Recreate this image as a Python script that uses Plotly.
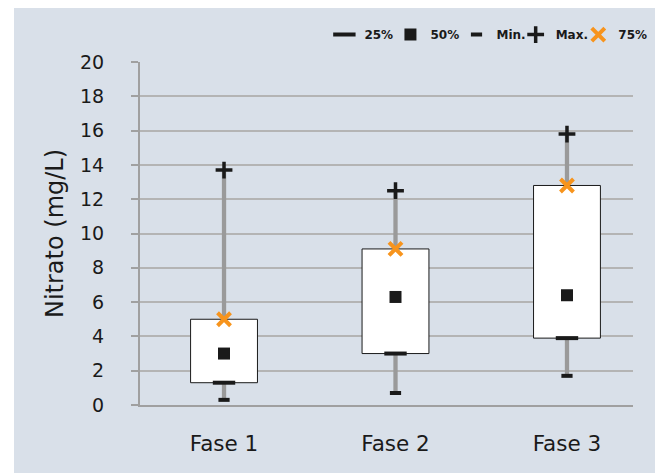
import plotly.graph_objects as go

categories = ["Fase 1", "Fase 2", "Fase 3"]
q25 = [1.3, 3.0, 3.9]
q50 = [3.0, 6.3, 6.4]
q75 = [5.0, 9.1, 12.8]
vmin = [0.3, 0.7, 1.7]
vmax = [13.7, 12.5, 15.8]
y_ticks = [0, 2, 4, 6, 8, 10, 12, 14, 16, 18, 20]

xpos = list(range(len(categories)))
BG = "#d9e0e9"
BLACK = "#1a1a1a"
ORANGE = "#f7941d"
GRID = "#b4b4b4"
AXIS = "#a0a0a0"
FONT = "DejaVu Sans"

fig = go.Figure()

# whiskers (min -> max) as thin bars
fig.add_trace(go.Bar(
    x=xpos, base=vmin, y=[a - b for a, b in zip(vmax, vmin)],
    width=0.025, marker=dict(color="#9a9a9a", line=dict(width=0)),
    showlegend=False, hoverinfo="skip"))
# boxes (25% -> 75%)
fig.add_trace(go.Bar(
    x=xpos, base=q25, y=[a - b for a, b in zip(q75, q25)],
    width=0.39, marker=dict(color="white", line=dict(color=BLACK, width=1)),
    showlegend=False, hoverinfo="skip"))

fig.add_trace(go.Scatter(
    x=xpos, y=q25, mode="markers", name="25%", legend="legend",
    marker=dict(symbol="line-ew", size=16, color=BLACK, line=dict(color=BLACK, width=4))))
fig.add_trace(go.Scatter(
    x=xpos, y=q50, mode="markers", name="50%", legend="legend2",
    marker=dict(symbol="square", size=12, color=BLACK)))
fig.add_trace(go.Scatter(
    x=xpos, y=vmin, mode="markers", name="Min.", legend="legend3",
    marker=dict(symbol="line-ew", size=8, color=BLACK, line=dict(color=BLACK, width=4))))
fig.add_trace(go.Scatter(
    x=xpos, y=vmax, mode="markers", name="Max.", legend="legend4",
    marker=dict(symbol="cross-thin", size=12, color=BLACK, line=dict(color=BLACK, width=3.5))))
fig.add_trace(go.Scatter(
    x=xpos, y=q75, mode="markers", name="75%", legend="legend5",
    marker=dict(symbol="x-thin", size=13, color=ORANGE, line=dict(color=ORANGE, width=4))))

xrange = [-0.49, 2.385]

legend_x = [0.374, 0.508, 0.642, 0.762, 0.889]
legend_style = dict(orientation="h", xanchor="left", y=1.08, yanchor="middle",
                    bgcolor="rgba(0,0,0,0)",
                    font=dict(family="DejaVu Sans", size=12, weight="bold"), itemwidth=30)

fig.update_layout(
    width=641, height=465,
    margin=dict(l=126, r=22, t=54, b=68, autoexpand=False),
    paper_bgcolor=BG, plot_bgcolor=BG,
    barmode="overlay",
    font=dict(family=FONT, color=BLACK),
    showlegend=True,
    legend=dict(x=legend_x[0], **legend_style),
    legend2=dict(x=legend_x[1], **legend_style),
    legend3=dict(x=legend_x[2], **legend_style),
    legend4=dict(x=legend_x[3], **legend_style),
    legend5=dict(x=legend_x[4], **legend_style),
    xaxis=dict(range=xrange, tickvals=xpos, ticktext=categories, ticks="",
               showgrid=False, zeroline=False, showline=True, linecolor=AXIS, linewidth=2,
               tickfont=dict(size=21.5), ticklabelstandoff=18),
    xaxis2=dict(range=xrange, overlaying="x", side="bottom", tickvals=[-0.49, 0.711, 1.918],
                ticks="outside", ticklen=7, tickcolor=AXIS, tickwidth=2,
                showticklabels=False, showgrid=False, zeroline=False, showline=False),
    yaxis=dict(range=[0, 20], tickvals=y_ticks, ticks="outside", ticklen=7,
               tickcolor=AXIS, tickwidth=2, showgrid=True, gridcolor=GRID, gridwidth=1.5,
               zeroline=False, showline=True, linecolor=AXIS, linewidth=2,
               tickfont=dict(size=19), ticklabelstandoff=23,
               title=dict(text="Nitrato (mg/L)", font=dict(size=24), standoff=10)),
)

fig.write_html("out.html", post_script="document.body.style.margin='8px 0 0 14px';")
